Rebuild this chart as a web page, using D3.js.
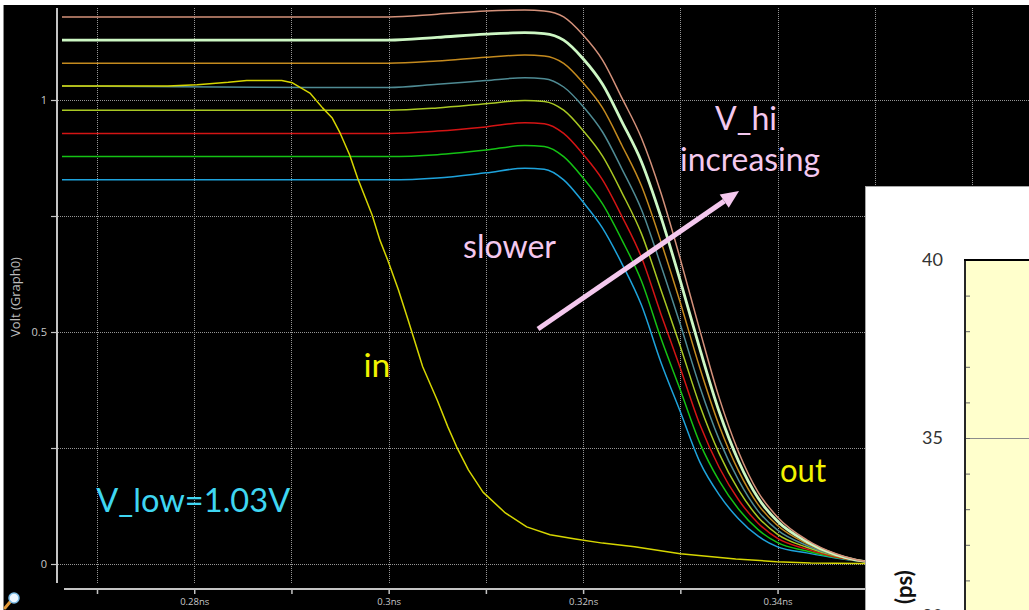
<!DOCTYPE html>
<html><head><meta charset="utf-8">
<script src="https://cdn.jsdelivr.net/npm/d3@7"></script>
<style>html,body{margin:0;padding:0;background:#fff;overflow:hidden}</style>
</head><body>
<svg id="c" width="1029" height="610"></svg>
<script>
// Sample times (ns) shared by the output waveforms
const times = [0.2664, 0.2950, 0.3000, 0.3050, 0.3100, 0.3140, 0.3160, 0.3180, 0.3200, 0.3220, 0.3240, 0.3260, 0.3280, 0.3300, 0.3320, 0.3340, 0.3360, 0.3380, 0.3400, 0.3430, 0.3460, 0.3500, 0.3560];

// Output voltage (V), one array per V_hi setting
const out083 = [0.828,0.828,0.828,0.832,0.843,0.853,0.851,0.828,0.780,0.724,0.647,0.558,0.435,0.328,0.220,0.149,0.097,0.060,0.037,0.024,0.013,0.004,0.002];
const out088 = [0.878,0.878,0.878,0.882,0.892,0.902,0.900,0.878,0.832,0.776,0.698,0.610,0.487,0.375,0.261,0.179,0.118,0.074,0.046,0.028,0.014,0.004,0.002];
const out093 = [0.928,0.928,0.928,0.933,0.942,0.951,0.949,0.928,0.883,0.828,0.749,0.661,0.539,0.422,0.301,0.208,0.138,0.088,0.055,0.032,0.015,0.004,0.002];
const out098 = [0.978,0.978,0.978,0.983,0.992,0.999,0.997,0.978,0.934,0.879,0.800,0.712,0.591,0.469,0.342,0.238,0.159,0.101,0.064,0.036,0.017,0.004,0.002];
const out103 = [1.030,1.027,1.027,1.034,1.042,1.048,1.046,1.028,0.986,0.931,0.851,0.764,0.644,0.516,0.382,0.268,0.180,0.114,0.073,0.040,0.018,0.004,0.002];
const out108 = [1.079,1.079,1.079,1.084,1.092,1.097,1.095,1.079,1.037,0.983,0.902,0.815,0.695,0.563,0.423,0.298,0.200,0.128,0.083,0.044,0.019,0.004,0.002];
const out113 = [1.129,1.129,1.129,1.135,1.142,1.145,1.143,1.129,1.089,1.034,0.953,0.867,0.748,0.610,0.464,0.328,0.221,0.142,0.092,0.048,0.020,0.004,0.002];
const out118 = [1.179,1.179,1.179,1.185,1.192,1.194,1.192,1.179,1.140,1.086,1.004,0.918,0.800,0.657,0.504,0.358,0.241,0.155,0.101,0.052,0.022,0.004,0.002];

const outSeries = [out083, out088, out093, out098, out103, out108, out113, out118];
const outColors = ["#1ea3dc", "#14c214", "#d41414", "#a9c823", "#4f8b94", "#c48a1e", "#cdf7c4", "#d4917a"];
const outWidths = [1.5, 1.5, 1.5, 1.5, 1.5, 1.5, 2.8, 1.5];

// Input waveform
const inTimes = [0.2664,0.2773,0.2803,0.2835,0.2854,0.2890,0.2901,0.2919,0.2932,0.2942,0.2950,0.2960,0.2968,0.2983,0.2991,0.2999,0.3010,0.3020,0.3035,0.3050,0.3061,0.3070,0.3082,0.3097,0.3120,0.3142,0.3166,0.3192,0.3220,0.3253,0.3300,0.3357,0.3399,0.3434,0.3485,0.3560];
const inVolts = [1.030,1.030,1.033,1.038,1.042,1.042,1.037,1.015,0.983,0.961,0.929,0.881,0.832,0.752,0.698,0.655,0.591,0.526,0.425,0.353,0.295,0.252,0.203,0.155,0.110,0.080,0.063,0.054,0.045,0.037,0.022,0.011,0.005,0.002,0.001,0.001];

// Axis ticks
const timeTicks = [0.27,0.28,0.29,0.30,0.31,0.32,0.33,0.34,0.35,0.36];
const timeLabels = ["", "0.28ns", "", "0.3ns", "", "0.32ns", "", "0.34ns", "", "0.36ns"];
const voltTicks = [0, 0.25, 0.5, 0.75, 1];
const voltLabels = ["0", "", "0.5", "", "1"];

// Delay panel ticks (ps)
const delayTicks = [30,31,32,33,34,35,36,37,38,39,40];
const delayLabels = ["30","","","","","35","","","","","40"];

const svg = d3.select("#c");
const W = 1029, H = 610;

const x = d3.scaleLinear().domain([0.27, 0.36]).range([97, 972]);
const y = d3.scaleLinear().domain([0, 1]).range([564, 100]);

// background
svg.append("rect").attr("width", W).attr("height", H).attr("fill", "#ffffff");
svg.append("rect").attr("x", 3).attr("y", 5).attr("width", W - 3).attr("height", H - 5).attr("fill", "#000");
svg.append("line").attr("x1", 3.5).attr("x2", 3.5).attr("y1", 5).attr("y2", H).attr("stroke", "#8a8a8a").attr("stroke-width", 1);

const axisColor = "#c4c4c4";
const gridColor = "#969696";

// grid
const grid = svg.append("g");
grid.selectAll(".vg").data(timeTicks).join("line")
  .attr("x1", d => Math.round(x(d)) + 0.5).attr("x2", d => Math.round(x(d)) + 0.5)
  .attr("y1", 8).attr("y2", 583)
  .attr("stroke", gridColor).attr("stroke-width", 1).attr("stroke-dasharray", "1,1");
grid.selectAll(".hg").data(voltTicks).join("line")
  .attr("x1", 58).attr("x2", W)
  .attr("y1", d => Math.round(y(d)) + 0.5).attr("y2", d => Math.round(y(d)) + 0.5)
  .attr("stroke", gridColor).attr("stroke-width", 1).attr("stroke-dasharray", "1,1");

// y axis
const yAxis = d3.axisLeft(y).tickValues(voltTicks)
  .tickFormat((d, i) => voltLabels[i]).tickSize(6).tickPadding(4);
const gy = svg.append("g").attr("transform", "translate(57,0)").call(yAxis);
gy.select(".domain").remove();
gy.selectAll("line").attr("stroke", axisColor).attr("stroke-width", 1.2);
gy.selectAll("text").attr("fill", "#c8c8c8").attr("font-family", "Open Sans, sans-serif").attr("font-size", 11);
svg.append("line").attr("x1", 57).attr("x2", 57).attr("y1", 8).attr("y2", 583)
  .attr("stroke", axisColor).attr("stroke-width", 2);

svg.append("text").attr("transform", "translate(20,297) rotate(-90)")
  .attr("text-anchor", "middle").attr("fill", "#bdbdbd")
  .attr("font-family", "Open Sans, sans-serif").attr("font-size", 13)
  .text("Volt (Graph0)");

// x axis
const xAxis = d3.axisBottom(x).tickValues(timeTicks)
  .tickFormat((d, i) => timeLabels[i]).tickSize(5).tickPadding(4);
const gx = svg.append("g").attr("transform", "translate(0,589)").call(xAxis);
gx.select(".domain").remove();
gx.selectAll("line").attr("stroke", axisColor).attr("stroke-width", 1.5);
gx.selectAll("text").attr("fill", "#c8c8c8").attr("font-family", "Open Sans, sans-serif").attr("font-size", 9.5);
svg.append("line").attr("x1", 64).attr("x2", W).attr("y1", 589).attr("y2", 589)
  .attr("stroke", axisColor).attr("stroke-width", 2);

// waveforms
const line = d3.line().x(d => x(d[0])).y(d => y(d[1])).curve(d3.curveMonotoneX);
const traces = svg.append("g").attr("fill", "none").attr("stroke-linejoin", "round");
outSeries.forEach((vals, i) => {
  traces.append("path")
    .attr("d", line(times.map((t, j) => [t, vals[j]])))
    .attr("stroke", outColors[i]).attr("stroke-width", outWidths[i]);
});
traces.append("path")
  .attr("d", d3.line().x(d => x(d[0])).y(d => y(d[1]))(inTimes.map((t, j) => [t, inVolts[j]])))
  .attr("stroke", "#d6d600").attr("stroke-width", 1.5);

// annotations
const pink = "#f4c8ee";
const ann = svg.append("g").attr("font-family", "Lato, sans-serif").attr("font-size", 32);
function label(txt, t, v, color, len) {
  ann.append("text").attr("x", x(t)).attr("y", y(v)).attr("text-anchor", "middle")
    .attr("fill", color).attr("textLength", len).attr("lengthAdjust", "spacingAndGlyphs").text(txt);
}
label("V_hi", 0.33676, 0.935, pink, 62);
label("increasing", 0.33717, 0.847, pink, 140);
label("slower", 0.31243, 0.6595, pink, 93);
label("in", 0.2988, 0.403, "#f2f200", 27);
label("out", 0.34262, 0.177, "#f2f200", 46);
label("V_low=1.03V", 0.2799, 0.113, "#3fd6f2", 194);

// arrow
const a0 = [x(0.31536), y(0.5065)], a1 = [x(0.33604), y(0.8039)];
const ang = Math.atan2(a1[1] - a0[1], a1[0] - a0[0]);
const headL = 18, headW = 8;
const base = [a1[0] - headL * Math.cos(ang), a1[1] - headL * Math.sin(ang)];
svg.append("line").attr("x1", a0[0]).attr("y1", a0[1]).attr("x2", base[0]).attr("y2", base[1])
  .attr("stroke", pink).attr("stroke-width", 5);
svg.append("path").attr("fill", pink).attr("d",
  `M${a1[0]},${a1[1]}L${base[0] + headW * Math.sin(ang)},${base[1] - headW * Math.cos(ang)}L${base[0] - headW * Math.sin(ang)},${base[1] + headW * Math.cos(ang)}Z`);

// magnifier icon
const mag = svg.append("g");
mag.append("line").attr("x1", 10).attr("y1", 602).attr("x2", 5).attr("y2", 608)
  .attr("stroke", "#e29a3a").attr("stroke-width", 3).attr("stroke-linecap", "round");
mag.append("circle").attr("cx", 14).attr("cy", 598).attr("r", 5)
  .attr("fill", "#eef7ff").attr("stroke", "#7cbce6").attr("stroke-width", 1.5);

// delay panel
const yi = d3.scaleLinear().domain([30, 40]).range([616, 260]);
const panel = svg.append("g");
panel.append("rect").attr("x", 865.5).attr("y", 186.5).attr("width", 200).attr("height", 500)
  .attr("fill", "#fff").attr("stroke", "#a6a6a6").attr("stroke-width", 1);
panel.append("rect").attr("x", 965).attr("y", 260).attr("width", 100).attr("height", 400).attr("fill", "#ffffcc");
panel.append("line").attr("x1", 966).attr("x2", W).attr("y1", yi(35) + 0.5).attr("y2", yi(35) + 0.5)
  .attr("stroke", "#8c8c8c").attr("stroke-width", 1);
panel.selectAll(".tk").data(delayTicks).join("line")
  .attr("x1", 965).attr("x2", 970)
  .attr("y1", d => yi(d) + 0.5).attr("y2", d => yi(d) + 0.5)
  .attr("stroke", "#666").attr("stroke-width", 1);
panel.append("line").attr("x1", 965).attr("x2", 965).attr("y1", 259).attr("y2", H)
  .attr("stroke", "#262626").attr("stroke-width", 2);
panel.append("line").attr("x1", 964).attr("x2", W).attr("y1", 260).attr("y2", 260)
  .attr("stroke", "#000").attr("stroke-width", 2);
panel.selectAll(".tl").data(delayTicks).join("text")
  .attr("x", 943).attr("y", d => yi(d)).attr("dy", "0.35em").attr("text-anchor", "end")
  .attr("fill", "#333").attr("font-family", "Lato, sans-serif").attr("font-size", 18)
  .text((d, i) => delayLabels[i]);
panel.append("text").attr("transform", "translate(912,604) rotate(-90)")
  .attr("fill", "#111").attr("font-family", "Lato, sans-serif").attr("font-weight", "bold")
  .attr("font-size", 22).text("(ps)");
</script>
</body></html>
